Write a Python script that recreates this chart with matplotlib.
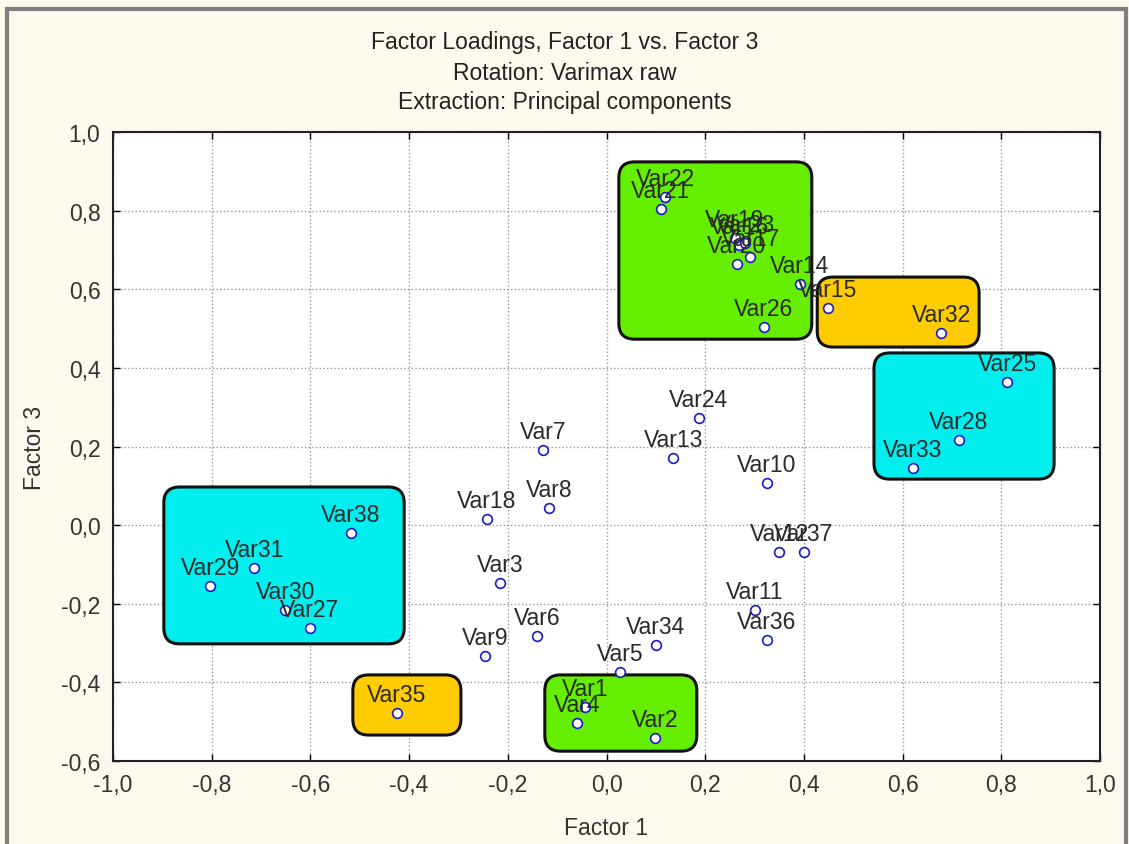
import matplotlib
matplotlib.use("Agg")
import matplotlib.pyplot as plt
from matplotlib.patches import FancyBboxPatch, Rectangle
from matplotlib.ticker import FuncFormatter, MultipleLocator

# factor loadings
names = ["Var1", "Var2", "Var3", "Var4", "Var5", "Var6", "Var7", "Var8", "Var9",
         "Var10", "Var11", "Var12", "Var13", "Var14", "Var15", "Var16", "Var17",
         "Var18", "Var19", "Var20", "Var21", "Var22", "Var23", "Var24", "Var25",
         "Var26", "Var27", "Var28", "Var29", "Var30", "Var31", "Var32", "Var33",
         "Var34", "Var35", "Var36", "Var37", "Var38"]
factor1 = [-0.044, 0.098, -0.216, -0.060, 0.027, -0.141, -0.129, -0.117, -0.246,
           0.325, 0.301, 0.350, 0.135, 0.392, 0.449, 0.269, 0.291,
           -0.242, 0.260, 0.264, 0.110, 0.119, 0.281, 0.187, 0.812,
           0.319, -0.601, 0.714, -0.803, -0.651, -0.714, 0.678, 0.621,
           0.100, -0.425, 0.325, 0.400, -0.518]
factor3 = [-0.463, -0.542, -0.147, -0.503, -0.374, -0.282, 0.191, 0.043, -0.333,
           0.107, -0.216, -0.068, 0.171, 0.613, 0.552, 0.713, 0.682,
           0.016, 0.730, 0.664, 0.804, 0.835, 0.718, 0.272, 0.364,
           0.504, -0.262, 0.216, -0.155, -0.216, -0.109, 0.489, 0.145,
           -0.305, -0.478, -0.292, -0.068, -0.020]

# highlighted groups: (x0, x1, y0, y1, colour)
groups = [
    (0.025, 0.416, 0.473, 0.924, "#66ee00"),
    (0.427, 0.755, 0.453, 0.631, "#ffcc00"),
    (0.542, 0.907, 0.117, 0.438, "#00eeee"),
    (-0.897, -0.410, -0.302, 0.097, "#00eeee"),
    (-0.514, -0.295, -0.534, -0.381, "#ffcc00"),
    (-0.125, 0.183, -0.575, -0.381, "#66ee00"),
]

plt.rcParams['font.family'] = ['Liberation Sans', 'DejaVu Sans']
fs = 16.5

fig = plt.figure(figsize=(11.29, 8.45), dpi=100, facecolor="#fdf9ef")
ax = fig.add_axes([113/1129, 83/845, 987/1129, 629/845])
ax.set_xlim(-1.0, 1.0)
ax.set_ylim(-0.6, 1.0)

# frame around the whole window (gray, like the original screenshot)
fig.patches.append(Rectangle((7/1129, -0.1), 1119/1129, 1.1 - 10/845,
                             transform=fig.transFigure, fill=False,
                             edgecolor="#7f7f7f", linewidth=3))

asp = (987/2.0) / (629/1.6)
for x0, x1, y0, y1, col in groups:
    box = FancyBboxPatch((x0, y0), x1 - x0, y1 - y0,
                         boxstyle="round,pad=0,rounding_size=0.032",
                         mutation_aspect=asp, facecolor=col,
                         edgecolor="#111111", linewidth=2.2, zorder=2)
    ax.add_patch(box)

ax.plot(factor1, factor3, linestyle="none", marker="o", markersize=7,
        markerfacecolor="white", markeredgecolor="#1a1acc",
        markeredgewidth=1.2, zorder=4)
for n, x, y in zip(names, factor1, factor3):
    ax.annotate(n, (x, y), xytext=(0, 5), textcoords="offset points",
                ha="center", va="bottom", fontsize=fs, color="#2a2a2a",
                zorder=5)

ax.xaxis.set_major_locator(MultipleLocator(0.2))
ax.yaxis.set_major_locator(MultipleLocator(0.2))
fmt = FuncFormatter(lambda v, p: f"{v:.1f}".replace(".", ",").replace("-0,0", "0,0"))
ax.xaxis.set_major_formatter(fmt)
ax.yaxis.set_major_formatter(fmt)
ax.tick_params(direction="in", top=True, right=True, length=5, width=1,
               labelsize=fs, labelcolor="#333333", pad=9)
ax.grid(True, linestyle=":", color="#999999", linewidth=1, zorder=0)
ax.set_axisbelow(True)
for s in ax.spines.values():
    s.set_linewidth(1.5)
    s.set_color("#222222")

ax.set_xlabel("Factor 1", fontsize=fs, color="#333333", labelpad=14)
ax.set_ylabel("Factor 3", fontsize=fs, color="#333333", labelpad=11)

fig.text(0.5, 1 - 42/845, "Factor Loadings, Factor 1 vs. Factor 3", ha="center",
         va="center", fontsize=fs, color="#222222")
fig.text(0.5, 1 - 73/845, "Rotation: Varimax raw", ha="center", va="center",
         fontsize=fs, color="#222222")
fig.text(0.5, 1 - 103/845, "Extraction: Principal components", ha="center",
         va="center", fontsize=fs, color="#222222")

fig.savefig("out.png", dpi=100, facecolor=fig.get_facecolor())
